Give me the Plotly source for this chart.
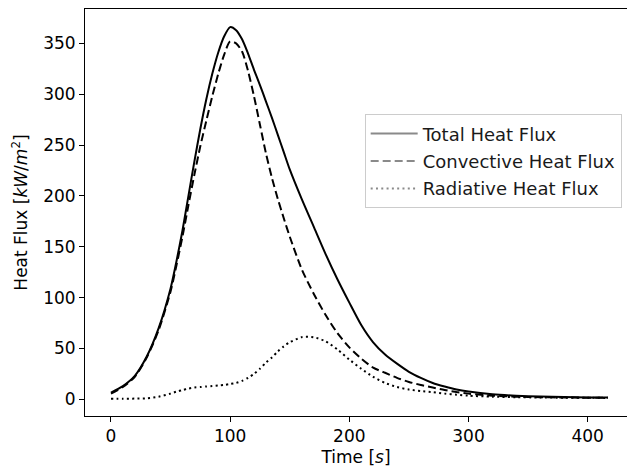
import plotly.graph_objects as go

time_s = [0, 10, 20, 30, 40, 50, 55, 60, 65, 70, 75, 80, 85, 90, 95, 100, 105, 110, 115, 120, 125, 130, 135, 140, 145,
          150, 160, 170, 180, 190, 200, 210, 220, 230, 240, 250, 260, 270, 280, 290, 300,
          320, 340, 360, 380, 400, 417]

total_flux = [6.5, 13, 23, 42, 70, 109, 136, 166, 200, 234, 266, 295, 320, 341, 357, 366, 363, 354, 340, 324, 309, 293, 277, 260, 243,
              226, 197, 170, 143, 118, 95, 73, 56, 44, 35, 27, 21, 16, 12.5, 9.5, 7.5,
              4.8, 3.4, 2.6, 2.1, 1.8, 1.6]

convective_flux = [5.5, 12, 22, 41, 68, 106, 132, 160, 191, 221, 249, 274, 298, 320, 339, 352, 350, 342, 323, 298, 270, 242, 218, 197, 178,
                   160, 128, 104, 83, 65, 51, 40, 31, 26, 21, 17, 14, 11.5, 9, 7, 5.5,
                   3.5, 2.5, 2.0, 1.7, 1.5, 1.4]

radiative_flux = [0.5, 0.5, 0.6, 0.9, 2.5, 5.5, 7.5, 9, 10.5, 11.5, 12, 12.5, 13, 13.5, 14, 15, 16, 18, 21, 25, 30, 36, 41, 47, 52,
                  56, 61, 61, 57, 49, 39, 30, 22, 16, 12, 9.5, 8, 7, 5.5, 4.5, 3.5,
                  2.5, 2.0, 1.7, 1.5, 1.4, 1.3]

series_names = ["Total Heat Flux", "Convective Heat Flux", "Radiative Heat Flux"]
series_values = [total_flux, convective_flux, radiative_flux]
dashes = ["solid", "8px,4px", "2px,3.3px"]
x_ticks = [0, 100, 200, 300, 400]
y_ticks = [0, 50, 100, 150, 200, 250, 300, 350]

FONT = "DejaVu Sans"
fig = go.Figure()

for name, vals, dash in zip(series_names, series_values, dashes):
    fig.add_trace(go.Scatter(
        x=time_s, y=vals, mode="lines", name=name, showlegend=False,
        line=dict(color="black", width=2, dash=dash, shape="spline", smoothing=0.7),
        hoverinfo="skip",
    ))

for i, (name, dash) in enumerate(zip(series_names, dashes)):
    fig.add_trace(go.Scatter(
        x=[None], y=[None], mode="lines", name=name, legendgroup=f"g{i}",
        line=dict(color="#8a8a8a", width=2, dash=dash),
    ))

fig.update_layout(
    width=627, height=472,
    margin=dict(l=85, r=0, t=9, b=56),
    paper_bgcolor="white", plot_bgcolor="white",
    font=dict(family=FONT, size=17, color="black"),
    showlegend=True,
    legend=dict(
        x=0.516, y=0.741, xanchor="left", yanchor="top",
        bgcolor="rgba(255,255,255,0.8)", bordercolor="#cccccc", borderwidth=1,
        font=dict(family=FONT, size=18, color="#1a1a1a"),
        tracegroupgap=1, itemwidth=47,
    ),
    xaxis=dict(
        range=[-21.8, 433], tickvals=x_ticks, ticktext=[str(v) for v in x_ticks],
        showgrid=False, zeroline=False, showline=True, linecolor="black", linewidth=1,
        mirror=True, ticks="outside", ticklen=5, tickcolor="black",
        title=dict(text="Time [<i>s</i>]", standoff=5, font=dict(size=17)),
    ),
    yaxis=dict(
        range=[-16.5, 383.8], tickvals=y_ticks, ticktext=[str(v) for v in y_ticks],
        showgrid=False, zeroline=False, showline=True, linecolor="black", linewidth=1,
        mirror=False, ticks="outside", ticklen=5, tickcolor="black",
        title=dict(text="Heat Flux [<i>kW</i>/<i>m</i><sup>2</sup>]", standoff=11, font=dict(size=17)),
    ),
)

fig.write_html("out.html", config={"displayModeBar": False},
               post_script="document.body.style.margin='0';document.body.style.overflow='hidden';")
